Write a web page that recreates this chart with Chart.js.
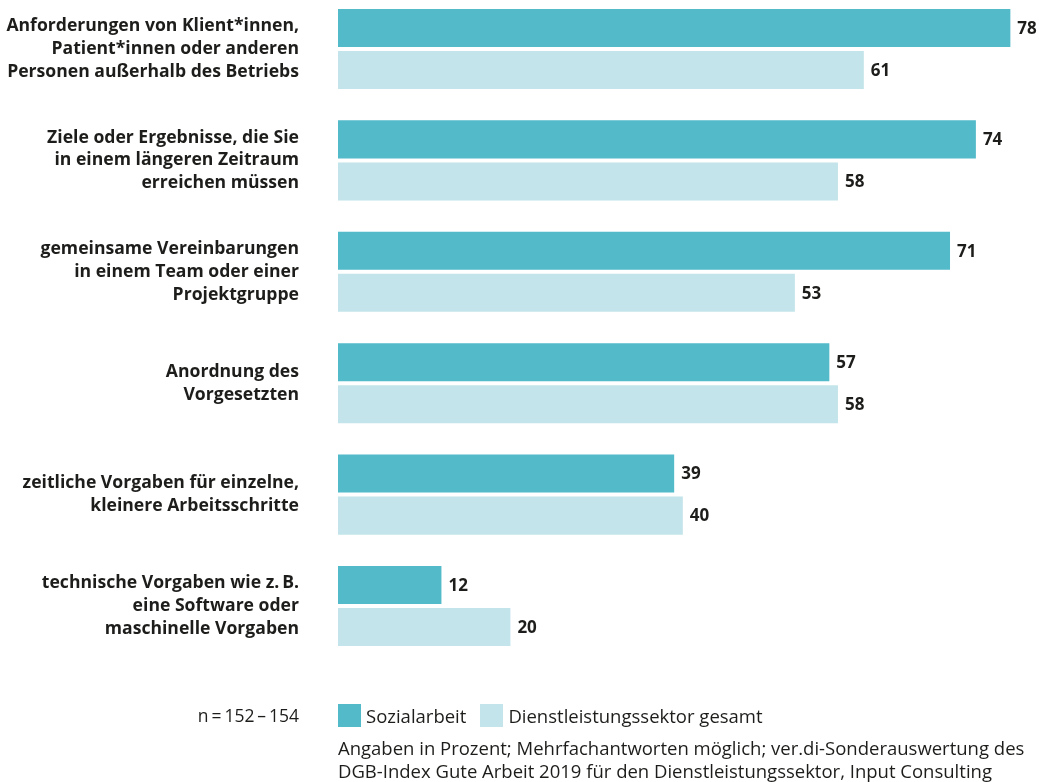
<!DOCTYPE html>
<html lang="de">
<head>
<meta charset="utf-8">
<title>Vorgaben bei der Arbeit</title>
<script src="https://cdn.jsdelivr.net/npm/chart.js@4/dist/chart.umd.min.js"></script>
<style>
  html, body { margin: 0; padding: 0; background: #fff; }
  #wrap { position: relative; width: 1039px; height: 782px; overflow: hidden; font-family: "Open Sans", "Noto Sans", sans-serif; color: #1d1d1b; }
  #chart { position: absolute; left: 0; top: -7px; }
  .n { position: absolute; right: 740px; top: 702px; font-size: 17.5px; line-height: 26px; }
  .legend { position: absolute; left: 338px; top: 704px; display: flex; align-items: center; font-size: 18.5px; line-height: 23px; }
  .legend .sw { width: 23px; height: 23px; margin-right: 5px; }
  .legend .item { display: flex; align-items: center; margin-right: 14px; }
  .note { position: absolute; left: 338px; top: 737px; font-size: 18.5px; line-height: 22.5px; white-space: nowrap; }
</style>
</head>
<body>
<div id="wrap">
  <canvas id="chart" width="1039" height="782"></canvas>
  <div class="n" id="nLabel"></div>
  <div class="legend" id="legend"></div>
  <div class="note" id="note"></div>
</div>
<script>
// Kategorien (mehrzeilige Achsenbeschriftungen)
const categories = [
  ["Anforderungen von Klient*innen,", "Patient*innen oder anderen", "Personen außerhalb des Betriebs"],
  ["Ziele oder Ergebnisse, die Sie", "in einem längeren Zeitraum", "erreichen müssen"],
  ["gemeinsame Vereinbarungen", "in einem Team oder einer", "Projektgruppe"],
  ["Anordnung des", "Vorgesetzten"],
  ["zeitliche Vorgaben für einzelne,", "kleinere Arbeitsschritte"],
  ["technische Vorgaben wie z.\u2009B.", "eine Software oder", "maschinelle Vorgaben"]
];

// Werte in Prozent
const seriesNames = ["Sozialarbeit", "Dienstleistungssektor gesamt"];
const sozialarbeit = [78, 74, 71, 57, 39, 12];
const dienstleistung = [61, 58, 53, 58, 40, 20];

const sampleText = "n\u2009=\u2009152\u2009–\u2009154";
const noteLines = [
  "Angaben in Prozent; Mehrfachantworten möglich; ver.di-Sonderauswertung des",
  "DGB-Index Gute Arbeit 2019 für den Dienstleistungssektor, Input Consulting"
];

const colors = ["#52bac9", "#c2e4ea"];
const textColor = "#1d1d1b";
const fontFamily = '"Open Sans", "Noto Sans", sans-serif';

// Wertebeschriftung rechts neben jedem Balken
const valueLabels = {
  id: "valueLabels",
  afterDatasetsDraw(chart) {
    const ctx = chart.ctx;
    ctx.save();
    ctx.font = "bold 17px " + fontFamily;
    ctx.fillStyle = textColor;
    ctx.textAlign = "left";
    ctx.textBaseline = "middle";
    chart.data.datasets.forEach((ds, i) => {
      const meta = chart.getDatasetMeta(i);
      meta.data.forEach((bar, j) => {
        ctx.fillText(String(ds.data[j]), bar.x + 7, bar.y + 1);
      });
    });
    ctx.restore();
  }
};

new Chart(document.getElementById("chart"), {
  type: "bar",
  data: {
    labels: categories,
    datasets: [
      { label: seriesNames[0], data: sozialarbeit, backgroundColor: colors[0] },
      { label: seriesNames[1], data: dienstleistung, backgroundColor: colors[1] }
    ]
  },
  options: {
    indexAxis: "y",
    responsive: false,
    animation: false,
    events: [],
    categoryPercentage: 0.7547,
    barPercentage: 0.905,
    layout: { padding: { top: 0.3, bottom: 113.3, left: 0, right: 11.4 } },
    plugins: {
      legend: { display: false },
      tooltip: { enabled: false }
    },
    scales: {
      x: { type: "linear", min: 0, max: 80, display: false },
      y: {
        type: "category",
        offset: true,
        grid: { display: false, drawTicks: false },
        border: { display: false },
        ticks: {
          padding: 39,
          color: textColor,
          font: { family: fontFamily, size: 17.6, weight: "bold", lineHeight: 1.3 }
        },
        afterFit(scale) {
          scale.width = 338;
          scale.paddingTop = 0;
          scale.paddingBottom = 0;
        }
      }
    }
  },
  plugins: [valueLabels]
});

// Legende, Stichprobe und Quellenangabe
document.getElementById("nLabel").textContent = sampleText;
const legend = document.getElementById("legend");
seriesNames.forEach((name, i) => {
  const item = document.createElement("div");
  item.className = "item";
  const sw = document.createElement("span");
  sw.className = "sw";
  sw.style.background = colors[i];
  const t = document.createElement("span");
  t.textContent = name;
  item.appendChild(sw);
  item.appendChild(t);
  legend.appendChild(item);
});
document.getElementById("note").innerHTML = noteLines.map(l => l.replace(/&/g, "&amp;")).join("<br>");
</script>
</body>
</html>
